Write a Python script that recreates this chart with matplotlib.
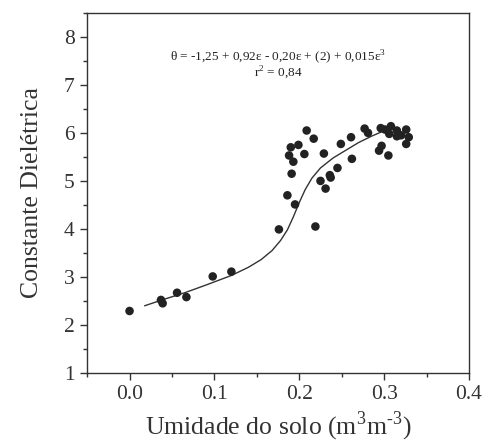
import matplotlib
matplotlib.use("Agg")
import matplotlib.pyplot as plt
from matplotlib.ticker import MultipleLocator

plt.rcParams['font.family'] = ['Liberation Serif', 'DejaVu Serif']
plt.rcParams['mathtext.fontset'] = 'custom'
plt.rcParams['mathtext.rm'] = 'Liberation Serif'

# Observed points
umidade = [0.000, 0.037, 0.039, 0.056, 0.067, 0.098, 0.120,
           0.176, 0.219, 0.186, 0.195, 0.191, 0.193, 0.188, 0.190, 0.199,
           0.206, 0.2087, 0.217, 0.229, 0.225, 0.231, 0.236, 0.237, 0.245,
           0.249, 0.261, 0.262, 0.277, 0.281, 0.294, 0.297, 0.305, 0.296,
           0.301, 0.308, 0.306, 0.315, 0.315, 0.320, 0.326, 0.329, 0.326]
constante = [2.29, 2.52, 2.45, 2.67, 2.58, 3.01, 3.11,
             3.99, 4.05, 4.70, 4.51, 5.15, 5.40, 5.53, 5.70, 5.75,
             5.56, 6.05, 5.88, 5.57, 5.00, 4.84, 5.12, 5.07, 5.27,
             5.77, 5.91, 5.46, 6.09, 6.00, 5.63, 5.73, 5.53, 6.10,
             6.07, 6.14, 5.98, 6.05, 5.93, 5.95, 6.07, 5.91, 5.77]

# Fitted curve
curva_x = [0.018, 0.040, 0.065, 0.090, 0.120, 0.140, 0.155, 0.168, 0.178, 0.186,
           0.193, 0.200, 0.207, 0.215, 0.225, 0.240, 0.255, 0.270, 0.285, 0.298]
curva_y = [2.40, 2.53, 2.67, 2.83, 3.03, 3.20, 3.36, 3.55, 3.76, 3.98,
           4.25, 4.55, 4.82, 5.06, 5.27, 5.48, 5.64, 5.80, 5.93, 6.03]

xticks = [0.0, 0.1, 0.2, 0.3, 0.4]
yticks = [1, 2, 3, 4, 5, 6, 7, 8]

fig = plt.figure(figsize=(4.84, 4.45), dpi=100)
ax = fig.add_axes([0.180, 0.162, 0.789, 0.809])

ax.plot(curva_x, curva_y, color='#333333', lw=1.0)
ax.scatter(umidade, constante, s=38, color='#222222', zorder=3, edgecolors='none')

ax.set_xlim(-0.05, 0.4)
ax.set_ylim(1, 8.5)
ax.set_xticks(xticks)
ax.set_xticklabels([f"{v:.1f}" for v in xticks])
ax.set_yticks(yticks)
ax.xaxis.set_minor_locator(MultipleLocator(0.05))
ax.yaxis.set_minor_locator(MultipleLocator(0.5))
ax.tick_params(which='major', direction='out', length=5, width=1, labelsize=15.5,
               colors='#333333', pad=4)
ax.tick_params(which='minor', direction='out', length=3, width=1, colors='#333333')
for s in ax.spines.values():
    s.set_color('#333333')
    s.set_linewidth(1.0)

ax.set_xlabel(r"Umidade do solo (m$^3$m$^{\text{-}3}$)", fontsize=18.5, color='#333333', labelpad=4)
ax.set_ylabel("Constante Dielétrica", fontsize=18.5, color='#333333', labelpad=15)

ax.text(0.5, 0.878, r"θ = -1,25 + 0,92ε - 0,20ε + (2) + 0,015ε$^3$",
        transform=ax.transAxes, ha='center', va='center', fontsize=9.5, color='#222222')
ax.text(0.5, 0.833, r"r$^2$ = 0,84", transform=ax.transAxes, ha='center',
        va='center', fontsize=9.5, color='#222222')

fig.savefig("out.png", dpi=100)
